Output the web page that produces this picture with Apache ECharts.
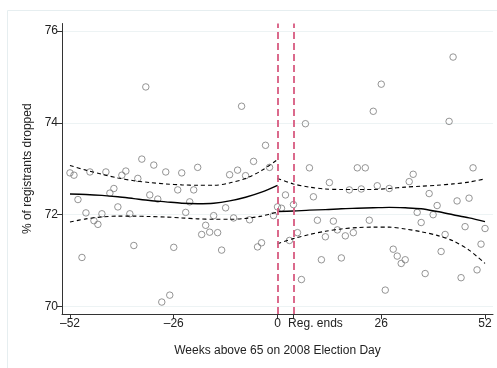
<!DOCTYPE html>
<html>
<head>
<meta charset="utf-8">
<script src="https://cdn.jsdelivr.net/npm/echarts@6/dist/echarts.min.js"></script>
<style>
html,body{margin:0;padding:0;background:#fff;}
#chart{width:497px;height:368px;}
</style>
</head>
<body>
<div id="chart"></div>
<script>
// Weeks above 65 on 2008 Election Day
var weeks = [-52,-51,-50,-49,-48,-47,-46,-45,-44,-43,-42,-41,-40,-39,-38,-37,-36,-35,-34,-33,-32,-31,-30,-29,-28,-27,-26,-25,-24,-23,-22,-21,-20,-19,-18,-17,-16,-15,-14,-13,-12,-11,-10,-9,-8,-7,-6,-5,-4,-3,-2,-1,0,1,2,3,4,5,6,7,8,9,10,11,12,13,14,15,16,17,18,19,20,21,22,23,24,25,26,27,28,29,30,31,32,33,34,35,36,37,38,39,40,41,42,43,44,45,46,47,48,49,50,51,52];
// % of registrants dropped
var dropped = [72.91,72.86,72.33,71.07,72.04,72.93,71.87,71.79,72.02,72.93,72.47,72.57,72.17,72.86,72.95,72.02,71.33,72.79,73.21,74.78,72.43,73.08,72.34,70.10,72.93,70.25,71.29,72.54,72.91,72.05,72.28,72.54,73.03,71.57,71.77,71.62,71.98,71.61,71.23,72.15,72.87,71.93,72.97,74.36,72.85,71.89,73.16,71.30,71.39,73.51,73.03,71.98,72.17,72.14,72.43,71.44,72.22,71.61,70.59,73.98,73.02,72.39,71.88,71.02,71.52,72.70,71.86,71.67,71.06,71.54,72.54,71.61,73.02,72.56,73.02,71.88,74.25,72.63,74.84,70.36,72.57,71.25,71.10,70.94,71.02,72.72,72.88,72.05,71.83,70.72,72.46,72.00,72.20,71.20,71.57,74.03,75.43,72.30,70.63,71.74,72.36,73.02,70.80,71.36,71.70];

// Fitted curves and confidence bands, left of the threshold
var leftWeeks = [-52,-48,-44,-40,-36,-32,-28,-24,-20,-16,-12,-8,-4,0];
var leftFit   = [72.45,72.44,72.42,72.39,72.35,72.31,72.28,72.25,72.24,72.25,72.30,72.38,72.49,72.64];
var leftUpper = [73.07,72.97,72.88,72.80,72.74,72.70,72.67,72.65,72.64,72.64,72.69,72.79,72.96,73.20];
var leftLower = [71.84,71.91,71.95,71.97,71.97,71.96,71.95,71.93,71.91,71.90,71.90,71.92,71.97,72.06];
// Right of the threshold
var rightWeeks = [0,4,8,12,16,20,24,28,32,36,40,44,48,52];
var rightFit   = [72.07,72.08,72.10,72.11,72.13,72.14,72.15,72.16,72.15,72.13,72.07,72.00,71.93,71.85];
var rightUpper = [72.79,72.67,72.60,72.56,72.55,72.55,72.55,72.57,72.60,72.62,72.64,72.67,72.71,72.78];
var rightLower = [71.37,71.48,71.57,71.64,71.69,71.72,71.73,71.73,71.69,71.63,71.55,71.43,71.23,70.94];

// Vertical reference lines
var refLines = [0, 4];

// Tick values and labels
var xTicks = [-52,-26,0,4,26,52];
var xTickLabels = ['\u201352','\u201326','0','Reg. ends','26','52'];
var yTicks = [70,72,74,76];

function pairs(xs, ys){ return xs.map(function(x,i){ return [x, ys[i]]; }); }

var chart = echarts.init(document.getElementById('chart'), null, {renderer:'canvas'});
var font = '"Liberation Sans", Arial, Helvetica, sans-serif';

function fitSeries(xs, ys, dashed){
  return {
    type:'line', data: pairs(xs, ys), smooth: 0.3, symbol:'none', silent:true,
    lineStyle:{color:'#000', width: dashed ? 1.1 : 1.4, type: dashed ? [4,3] : 'solid'},
    z: 3
  };
}

chart.setOption({
  animation:false,
  backgroundColor:'#fff',
  textStyle:{fontFamily: font},
  graphic:[{
    type:'rect', silent:true, z:-10,
    shape:{x:7.5, y:10.5, width:500, height:370},
    style:{fill:'none', stroke:'#e6eef0', lineWidth:1}
  }],
  grid:{left:62, right:4, top:23.5, bottom:54, containLabel:false},
  xAxis:{
    type:'value', min:-54, max:54,
    name:'Weeks above 65 on 2008 Election Day',
    nameLocation:'middle', nameGap:31,
    nameTextStyle:{color:'#222', fontSize:12, fontFamily:font},
    axisLine:{show:true, onZero:false, lineStyle:{color:'#333', width:1}},
    axisTick:{show:true, length:5, customValues:xTicks, lineStyle:{color:'#333'}},
    axisLabel:{
      customValues:xTicks, color:'#222', fontSize:12, margin:4, fontFamily:font,
      formatter:function(v){
        var i = xTicks.indexOf(v);
        var t = i >= 0 ? xTickLabels[i] : '';
        return v === 4 ? '{r|' + t + '}' : t;
      },
      rich:{r:{fontSize:12, color:'#222', fontFamily:font, padding:[0,0,0,44]}}
    },
    splitLine:{show:false}
  },
  yAxis:{
    type:'value', min:69.84, max:76.16,
    name:'% of registrants dropped',
    nameLocation:'middle', nameGap:25,
    nameTextStyle:{color:'#222', fontSize:12, fontFamily:font},
    axisLine:{show:true, onZero:false, lineStyle:{color:'#333', width:1}},
    axisTick:{show:true, length:5, customValues:yTicks, lineStyle:{color:'#333'}},
    axisLabel:{customValues:yTicks, color:'#222', fontSize:12, margin:4, fontFamily:font},
    splitLine:{show:true, lineStyle:{color:'#edf3f4', width:1.2}}
  },
  series:[
    {
      type:'scatter', data: pairs(weeks, dropped), symbol:'circle', symbolSize:6.5,
      itemStyle:{color:'rgba(0,0,0,0)', borderColor:'#7a7a7a', borderWidth:1},
      z:2,
      markLine:{
        silent:true, symbol:'none', label:{show:false},
        lineStyle:{color:'#d85a80', width:1.8, type:[7,4]},
        data: refLines.map(function(v){ return {xAxis:v}; })
      }
    },
    fitSeries(leftWeeks, leftFit, false),
    fitSeries(leftWeeks, leftUpper, true),
    fitSeries(leftWeeks, leftLower, true),
    fitSeries(rightWeeks, rightFit, false),
    fitSeries(rightWeeks, rightUpper, true),
    fitSeries(rightWeeks, rightLower, true)
  ]
});
</script>
</body>
</html>
